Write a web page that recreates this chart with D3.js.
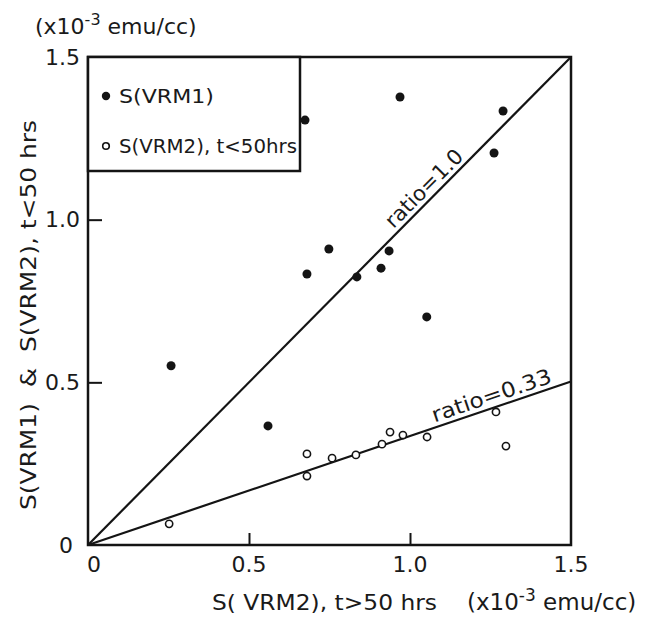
<!DOCTYPE html>
<html>
<head>
<meta charset="utf-8">
<script src="https://cdn.jsdelivr.net/npm/d3@7"></script>
<style>
  body { margin: 0; background: #fff; }
  svg { display: block; }
  text { font-family: "DejaVu Sans", "Open Sans", sans-serif; fill: #1a1a1a; white-space: pre; }
</style>
</head>
<body>
<script>
// ---- data (units: 1e-3 emu/cc) ----
const vrm1X = [0.258, 0.559, 0.674, 0.680, 0.748, 0.835, 0.910, 0.935, 0.969, 1.052, 1.261, 1.289];
const vrm1Y = [0.551, 0.366, 1.306, 0.833, 0.910, 0.824, 0.851, 0.904, 1.377, 0.701, 1.205, 1.334];
const vrm2X = [0.252, 0.680, 0.680, 0.758, 0.832, 0.913, 0.938, 0.978, 1.053, 1.267, 1.298];
const vrm2Y = [0.065, 0.280, 0.212, 0.267, 0.277, 0.310, 0.347, 0.338, 0.332, 0.409, 0.304];
const ratios = [1.0, 0.335];
const ratioLabels = ["ratio=1.0", "ratio=0.33"];
const ratioLabelX = [1.07, 1.265];
const xTicks = [0, 0.5, 1.0, 1.5];
const yTicks = [0, 0.5, 1.0, 1.5];
const xTickLabels = ["0", "0.5", "1.0", "1.5"];
const yTickLabels = ["0", "0.5", "1.0", "1.5"];
const legendLabels = ["S(VRM1)", "S(VRM2), t<50hrs"];

const W = 650, H = 617;
const svg = d3.select("body").append("svg").attr("width", W).attr("height", H);

const x = d3.scaleLinear().domain([0, 1.5]).range([88, 571]);
const y = d3.scaleLinear().domain([0, 1.5]).range([545, 57]);
const ink = "#141414";

// frame
svg.append("rect")
  .attr("x", x(0)).attr("y", y(1.5))
  .attr("width", x(1.5) - x(0)).attr("height", y(0) - y(1.5))
  .attr("fill", "none").attr("stroke", ink).attr("stroke-width", 2.5);

// inward ticks via d3 axes
const xAxis = d3.axisBottom(x).tickValues([0.5, 1.0]).tickSize(-12).tickFormat("");
svg.append("g").attr("transform", `translate(0,${y(0)})`).call(xAxis)
  .call(g => g.select(".domain").remove())
  .call(g => g.selectAll("line").attr("stroke", ink).attr("stroke-width", 2));
const yAxis = d3.axisLeft(y).tickValues([0.5, 1.0]).tickSize(-14).tickFormat("");
svg.append("g").attr("transform", `translate(${x(0)},0)`).call(yAxis)
  .call(g => g.select(".domain").remove())
  .call(g => g.selectAll("line").attr("stroke", ink).attr("stroke-width", 2));

// tick labels
svg.append("g").selectAll("text").data(xTicks).join("text")
  .attr("x", d => x(d) + (d === 0 ? 6 : 0)).attr("y", y(0) + 27)
  .attr("text-anchor", "middle").attr("font-size", 22)
  .text((d, i) => xTickLabels[i]);
svg.append("g").selectAll("text").data(yTicks).join("text")
  .attr("x", d => x(0) - (d === 0 ? 15 : 8)).attr("y", d => y(d)).attr("dy", "0.35em")
  .attr("text-anchor", "end").attr("font-size", 22)
  .text((d, i) => yTickLabels[i]);

// ratio lines
svg.append("g").selectAll("line").data(ratios).join("line")
  .attr("x1", x(0)).attr("y1", y(0))
  .attr("x2", x(1.5)).attr("y2", d => y(1.5 * d))
  .attr("stroke", ink).attr("stroke-width", 2.2);

// ratio labels along lines
const ratioLen = [101, 125];
ratios.forEach((r, i) => {
  const px = x(ratioLabelX[i]), py = y(ratioLabelX[i] * r);
  const ang = Math.atan2(y(1.5 * r) - y(0), x(1.5) - x(0)) * 180 / Math.PI;
  svg.append("text")
    .attr("transform", `translate(${px},${py}) rotate(${ang})`)
    .attr("y", -5).attr("text-anchor", "middle").attr("font-size", 21)
    .attr("textLength", ratioLen[i]).attr("lengthAdjust", "spacingAndGlyphs")
    .text(ratioLabels[i]);
});

// legend box
const lg = svg.append("g");
lg.append("rect").attr("x", x(0)).attr("y", y(1.5)).attr("width", 212).attr("height", 114)
  .attr("fill", "#fff").attr("stroke", ink).attr("stroke-width", 2.5);
lg.append("circle").attr("cx", 106).attr("cy", 96).attr("r", 4.2).attr("fill", ink);
lg.append("circle").attr("cx", 106).attr("cy", 146).attr("r", 3.3)
  .attr("fill", "#fff").attr("stroke", ink).attr("stroke-width", 1.6);
lg.append("text").attr("x", 119).attr("y", 96).attr("dy", "0.36em").attr("font-size", 19)
  .attr("textLength", 95).attr("lengthAdjust", "spacingAndGlyphs")
  .text(legendLabels[0]);
lg.append("text").attr("x", 119).attr("y", 146).attr("dy", "0.36em").attr("font-size", 19)
  .attr("textLength", 178).attr("lengthAdjust", "spacingAndGlyphs")
  .text(legendLabels[1]);

// data points
svg.append("g").selectAll("circle").data(vrm1X).join("circle")
  .attr("cx", d => x(d)).attr("cy", (d, i) => y(vrm1Y[i])).attr("r", 4.5).attr("fill", ink);
svg.append("g").selectAll("circle").data(vrm2X).join("circle")
  .attr("cx", d => x(d)).attr("cy", (d, i) => y(vrm2Y[i])).attr("r", 3.6)
  .attr("fill", "#fff").attr("stroke", ink).attr("stroke-width", 1.6);

// unit label top-left
const u = svg.append("text").attr("x", 35).attr("y", 34).attr("font-size", 22);
u.append("tspan").text("(x10");
u.append("tspan").attr("dy", -9).attr("font-size", 16).text("-3");
u.append("tspan").attr("dy", 9).text(" emu/cc)");

// x axis title
svg.append("text").attr("x", 212).attr("y", 610).attr("font-size", 22)
  .attr("textLength", 225).attr("lengthAdjust", "spacingAndGlyphs")
  .text("S( VRM2), t>50 hrs");
const xt = svg.append("text").attr("x", 467).attr("y", 610).attr("font-size", 23);
xt.append("tspan").text("(x10");
xt.append("tspan").attr("dy", -9).attr("font-size", 17).text("-3");
xt.append("tspan").attr("dy", 9).text(" emu/cc)");

// y axis title
svg.append("text")
  .attr("transform", `translate(36,${(120 + 510) / 2}) rotate(-90)`)
  .attr("text-anchor", "middle").attr("font-size", 22)
  .attr("textLength", 390).attr("lengthAdjust", "spacingAndGlyphs")
  .text("S(VRM1)  &  S(VRM2), t<50 hrs");
</script>
</body>
</html>
